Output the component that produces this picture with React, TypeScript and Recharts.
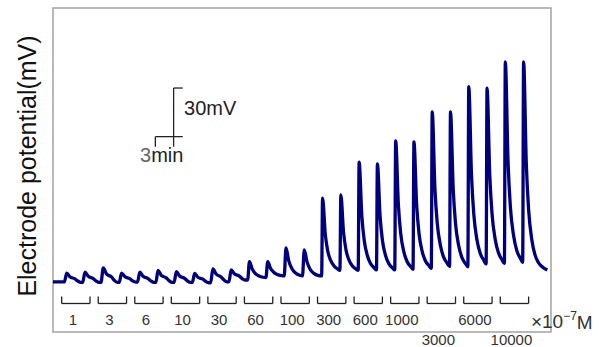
import {
  LineChart,
  Line,
  XAxis,
  YAxis,
  ReferenceLine,
  ReferenceArea,
  ReferenceDot,
} from "recharts";

// concentration applied, x10^-7 M (two responses per concentration)
const concentrations = ["1", "3", "6", "10", "30", "60", "100", "300", "600", "1000", "3000", "6000", "10000"];
// labels that sit on the lower row
const lowLabels = ["3000", "10000"];

// [minutes, mV]
const traceLow: [number, number][] = [
  [0, 31.0], [1.25, 31.0], [1.5, 36.4], [1.85, 34.1], [2.4, 32.8], [2.7, 31.5], [3.05, 30.6],
  [3.25, 30.6], [3.5, 37.0], [3.85, 34.4], [4.4, 33.0], [4.7, 31.6], [5.05, 30.6],
  [5.25, 30.6], [5.5, 39.5], [5.85, 35.9], [6.4, 34.0], [6.7, 31.9], [7.05, 30.6],
  [7.25, 30.6], [7.5, 36.4], [7.85, 34.2], [8.4, 32.9], [8.7, 31.6], [9.05, 30.8],
  [9.25, 30.8], [9.5, 37.0], [9.85, 34.4], [10.4, 33.0], [10.7, 31.6], [11.05, 30.6],
  [11.25, 30.6], [11.5, 38.0], [11.85, 35.0], [12.4, 33.4], [12.7, 31.7], [13.05, 30.6],
  [13.25, 30.6], [13.5, 37.3], [13.85, 34.6], [14.4, 33.1], [14.7, 31.6], [15.05, 30.6],
  [15.25, 30.6], [15.5, 36.1], [15.85, 33.8], [16.4, 32.6], [16.7, 31.3], [17.05, 30.4],
  [17.25, 30.4], [17.5, 39.0], [17.85, 35.8], [18.4, 34.0], [18.7, 32.2], [19.05, 31.0],
  [19.25, 31.0], [19.5, 38.4], [19.85, 35.9], [20.4, 34.5], [20.7, 33.0], [21.05, 32.1],
];

const traceMid: [number, number][] = [
  [21.3, 32.1], [21.5, 43.5], [21.8, 38.9], [22.15, 36.1], [22.55, 34.6], [23.0, 33.8],
  [23.3, 33.6], [23.5, 43.5], [23.8, 39.4], [24.15, 36.9], [24.55, 35.5], [25.0, 34.8],
  [25.3, 34.6], [25.5, 51.9], [25.8, 43.9], [26.15, 39.0], [26.55, 36.4], [27.0, 35.0],
  [27.3, 34.6], [27.5, 50.7], [27.8, 43.3], [28.15, 38.6], [28.55, 36.2], [29.0, 34.9],
];

const traceHigh: [number, number][] = [
  [29.4, 34.6], [29.5, 82.7], [29.8, 60.3], [30.05, 50.5], [30.4, 44.0], [30.75, 40.8], [31.15, 38.9],
  [31.4, 38.0], [31.5, 84.6], [31.8, 61.3], [32.05, 51.1], [32.4, 44.3], [32.75, 40.9], [33.15, 38.9],
  [33.4, 38.0], [33.5, 104.9], [33.8, 71.6], [34.05, 56.9], [34.4, 47.2], [34.75, 42.3], [35.15, 39.6],
  [35.4, 38.3], [35.5, 103.7], [35.8, 71.0], [36.05, 56.6], [36.4, 47.1], [36.75, 42.2], [37.15, 39.6],
  [37.4, 38.3], [37.5, 117.9], [37.8, 78.3], [38.05, 60.9], [38.4, 49.4], [38.75, 43.5], [39.15, 40.3],
  [39.4, 38.7], [39.5, 117.3], [39.8, 78.3], [40.05, 61.1], [40.4, 49.8], [40.75, 44.0], [41.15, 40.9],
  [41.4, 39.3], [41.5, 135.8], [41.8, 88.2], [42.05, 67.2], [42.4, 53.4], [42.75, 46.2], [43.15, 42.4],
  [43.4, 40.5], [43.5, 135.8], [43.8, 88.1], [44.05, 67.0], [44.4, 53.2], [44.75, 46.0], [45.15, 42.2],
  [45.4, 40.3], [45.5, 151.5], [45.8, 96.8], [46.05, 72.7], [46.4, 56.8], [46.75, 48.6], [47.15, 44.2],
  [47.4, 42.0], [47.5, 150.6], [47.8, 96.5], [48.05, 72.7], [48.4, 57.0], [48.75, 48.9], [49.15, 44.5],
  [49.4, 42.4], [49.5, 166.7], [49.8, 104.9], [50.05, 77.6], [50.4, 59.7], [50.75, 50.4], [51.15, 45.5],
  [51.4, 43.0], [51.5, 166.7], [51.8, 103.4], [52.05, 75.5], [52.4, 57.0], [52.75, 47.6], [53.15, 42.6],
  [53.6, 40.0], [54.1, 38.3],
];

const scaleBarMv = 30;
const scaleBarMin = 3;

const data = [...traceLow, ...traceMid, ...traceHigh].map(([t, v]) => ({ t, v }));

const FONT = "'Liberation Sans', Arial, sans-serif";
const X_MAX = 54.5;
const Y_MAX = 200;

// every concentration is applied for 4 min
const bracketCenters = concentrations.map((_, i) => 2.5 + i * 4);
const BRACKET_HALF = 1.55;
const BRACKET_TOP = 21.9;
const BRACKET_BOTTOM = 17.6;

// scale bar anchor (minutes / mV)
const barX = 13.2;
const barTop = 150.6;
const barLeft = 11.2;

const ConcTick = (props: any) => {
  const { x, y, index } = props;
  const label = concentrations[index];
  const low = lowLabels.includes(label);
  return (
    <text
      x={x - 3}
      y={low ? y + 7 : y - 13}
      textAnchor="middle"
      dominantBaseline="central"
      fontSize={15}
      fontFamily={FONT}
      fill="#333"
    >
      {label}
    </text>
  );
};

const UnitLabel = (props: any) => (
  <text x={props.cx} y={props.cy} dominantBaseline="central" fontFamily={FONT} fill="#333" fontSize={19}>
    ×10
    <tspan fontSize={12} dy={-6}>−7</tspan>
    <tspan dy={6}>M</tspan>
  </text>
);

const MvLabel = (props: any) => (
  <text x={props.cx} y={props.cy} dominantBaseline="central" fontFamily={FONT} fill="#222" fontSize={20}>
    {scaleBarMv}mV
  </text>
);

const MinLabel = (props: any) => (
  <text x={props.cx} y={props.cy} textAnchor="middle" dominantBaseline="central" fontFamily={FONT} fontSize={20}>
    <tspan fill="#666">{scaleBarMin}</tspan>
    <tspan fill="#222">min</tspan>
  </text>
);

const line = { stroke: "#222", strokeWidth: 1.3 };

export default function App() {
  return (
    <div style={{ position: "fixed", left: 0, top: 0, width: 601, height: 347, background: "#fff" }}>
      <LineChart width={601} height={347} data={data} margin={{ top: 8, right: 50, left: 53, bottom: 0 }}>
        <ReferenceArea
          x1={0}
          x2={X_MAX}
          y1={0}
          y2={Y_MAX}
          fill="none"
          stroke="#a3a3a3"
          strokeWidth={1.5}
          ifOverflow="visible"
        />
        <XAxis
          dataKey="t"
          type="number"
          domain={[0, X_MAX]}
          ticks={bracketCenters}
          interval={0}
          height={15}
          axisLine={false}
          tickLine={false}
          tickSize={0}
          tickMargin={0}
          tick={<ConcTick />}
        />
        <YAxis hide width={0} type="number" domain={[0, Y_MAX]} />

        {bracketCenters.map((c) => (
          <ReferenceLine
            key={"l" + c}
            segment={[{ x: c - BRACKET_HALF, y: BRACKET_TOP }, { x: c - BRACKET_HALF, y: BRACKET_BOTTOM }]}
            {...line}
          />
        ))}
        {bracketCenters.map((c) => (
          <ReferenceLine
            key={"b" + c}
            segment={[{ x: c - BRACKET_HALF, y: BRACKET_BOTTOM }, { x: c + BRACKET_HALF, y: BRACKET_BOTTOM }]}
            {...line}
          />
        ))}
        {bracketCenters.map((c) => (
          <ReferenceLine
            key={"r" + c}
            segment={[{ x: c + BRACKET_HALF, y: BRACKET_BOTTOM }, { x: c + BRACKET_HALF, y: BRACKET_TOP }]}
            {...line}
          />
        ))}

        {/* scale bar */}
        <ReferenceLine segment={[{ x: barX, y: barTop }, { x: barX, y: barTop - scaleBarMv - 6.2 }]} {...line} />
        <ReferenceLine segment={[{ x: barX, y: barTop }, { x: barLeft + scaleBarMin, y: barTop }]} {...line} />
        <ReferenceLine
          segment={[{ x: barLeft, y: barTop - scaleBarMv }, { x: barLeft + scaleBarMin, y: barTop - scaleBarMv }]}
          {...line}
        />
        <ReferenceLine
          segment={[{ x: barLeft, y: barTop - scaleBarMv }, { x: barLeft, y: barTop - scaleBarMv - 6.2 }]}
          {...line}
        />
        <ReferenceDot x={barLeft + scaleBarMin + 0.15} y={138.3} r={0} shape={<MvLabel />} />
        <ReferenceDot x={11.9} y={109.3} r={0} shape={<MinLabel />} />
        <ReferenceDot x={52.3} y={6.2} r={0} shape={<UnitLabel />} ifOverflow="visible" />

        <Line
          type="monotone"
          dataKey="v"
          stroke="#00007f"
          strokeWidth={3.3}
          dot={false}
          strokeLinejoin="round"
          isAnimationActive={false}
        />
      </LineChart>
      <div
        style={{
          position: "absolute",
          left: 27,
          top: 166,
          transform: "translate(-50%, -50%) rotate(-90deg)",
          whiteSpace: "nowrap",
          fontFamily: FONT,
          fontSize: 25,
          lineHeight: "25px",
          color: "#111",
        }}
      >
        Electrode potential(mV)
      </div>
    </div>
  );
}
